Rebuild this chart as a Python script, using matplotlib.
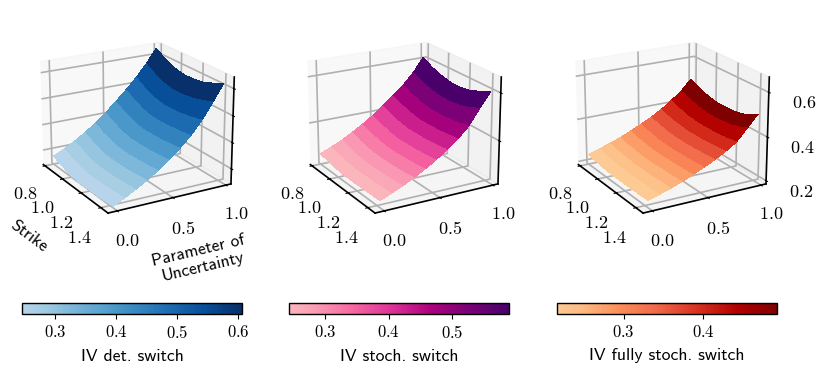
"""Implied vol surfaces for the three switch models."""

import matplotlib

matplotlib.use("Agg")
import matplotlib.pyplot as plt
import numpy as np
from matplotlib.cm import ScalarMappable
from matplotlib.colors import LinearSegmentedColormap, Normalize

plt.rcParams["mathtext.fontset"] = "cm"
plt.rcParams["font.family"] = ["cmss10", "DejaVu Sans"]
plt.rcParams["axes.formatter.use_mathtext"] = True
plt.rcParams["axes.unicode_minus"] = False

strikes = [0.80, 0.89, 0.98, 1.07, 1.16, 1.25, 1.34, 1.43]
params = [0.0, 0.1, 0.2, 0.3, 0.4, 0.5, 0.6, 0.7, 0.8, 0.9, 1.0]

iv_det = [
    [.275, .262, .252, .246, .246, .247, .248, .250],
    [.294, .280, .269, .263, .263, .264, .267, .270],
    [.315, .301, .289, .283, .283, .284, .287, .291],
    [.340, .324, .312, .305, .305, .306, .310, .314],
    [.368, .351, .338, .331, .331, .332, .336, .340],
    [.400, .382, .368, .360, .360, .361, .365, .369],
    [.435, .416, .401, .392, .392, .393, .397, .402],
    [.472, .452, .436, .427, .427, .429, .433, .439],
    [.512, .491, .475, .466, .466, .469, .476, .485],
    [.557, .536, .519, .512, .512, .518, .528, .541],
    [.610, .586, .570, .562, .562, .568, .582, .600],
]
iv_stoch = [
    [.262, .253, .246, .242, .242, .243, .244, .245],
    [.281, .271, .263, .258, .258, .259, .261, .264],
    [.302, .291, .282, .277, .277, .278, .281, .285],
    [.327, .314, .305, .299, .299, .300, .303, .308],
    [.355, .341, .330, .324, .324, .325, .329, .334],
    [.386, .371, .359, .352, .352, .353, .357, .362],
    [.420, .404, .391, .384, .384, .385, .389, .395],
    [.457, .440, .427, .419, .419, .420, .425, .431],
    [.497, .479, .465, .457, .457, .459, .465, .475],
    [.545, .526, .511, .503, .503, .508, .520, .540],
    [.605, .582, .566, .556, .556, .563, .580, .600],
]
iv_fully = [
    [.232, .225, .219, .216, .216, .216, .217, .218],
    [.247, .239, .233, .230, .230, .230, .231, .233],
    [.263, .255, .249, .245, .245, .245, .247, .249],
    [.281, .272, .266, .262, .262, .263, .264, .267],
    [.302, .292, .285, .281, .281, .282, .284, .287],
    [.325, .315, .306, .302, .302, .303, .305, .309],
    [.350, .339, .330, .325, .325, .326, .329, .333],
    [.378, .365, .356, .350, .350, .351, .355, .360],
    [.412, .397, .385, .378, .378, .379, .384, .392],
    [.450, .433, .420, .412, .412, .416, .426, .445],
    [.500, .476, .460, .452, .452, .456, .470, .498],
]

x_ticks = [0.8, 1.0, 1.2, 1.4]
y_ticks = [0.0, 0.5, 1.0]
z_ticks = [[.30, .395, .49, .585], [0.4, 0.6], [0.2, 0.4, 0.6]]
bar_ticks = [[0.3, 0.4, 0.5, 0.6], [0.3, 0.4, 0.5], [0.3, 0.4]]
bar_limits = [(0.246, 0.605), (0.242, 0.59), (0.216, 0.4925)]
z_limits = [(0.245, 0.625), (0.215, 0.665), (0.185, 0.667)]
bar_labels = ["IV det. switch", "IV stoch. switch", "IV fully stoch. switch"]
cmap_names = ["Blues", "RdPu", "OrRd"]
surfaces = [iv_det, iv_stoch, iv_fully]


def trunc_cmap(name, low=0.3, high=1.0):
    """keep the darker part of a colormap"""
    base = plt.get_cmap(name)
    return LinearSegmentedColormap.from_list(
        name + "_t", base(np.linspace(low, high, 256)))


def math_labels(values):
    return ["$%.1f$" % v for v in values]


fig = plt.figure(figsize=(8.30, 3.78), dpi=100)
X, Y = np.meshgrid(strikes, params)

ax_boxes = [[0.032, 0.3885, 0.255, 0.56],
            [0.3537, 0.3885, 0.255, 0.56],
            [0.6766, 0.3885, 0.255, 0.56]]
bar_boxes = [[0.027, 0.169, 0.264, 0.03],
             [0.348, 0.169, 0.265, 0.03],
             [0.671, 0.169, 0.265, 0.03]]

for i, Z in enumerate(surfaces):
    Z = np.array(Z)
    cmap = trunc_cmap(cmap_names[i])
    norm = Normalize(*bar_limits[i])
    # one colour per parameter row gives the even bands across the strike,
    # the last row has no face of its own so it stays out of the scale
    row_mean = Z.mean(axis=1)
    row_colors = cmap(Normalize(row_mean[0], row_mean[-2])(row_mean))
    face_colors = np.repeat(row_colors[:, None, :], Z.shape[1], axis=1)

    ax = fig.add_axes(ax_boxes[i], projection="3d")
    ax.set_box_aspect((4, 4, 3.2), zoom=1.04)
    ax.view_init(elev=20, azim=-30)
    ax.plot_surface(X, Y, Z, facecolors=face_colors, shade=False,
                    linewidth=0, antialiased=False)
    ax.set_xlim(0.78, 1.47)
    ax.set_ylim(-0.08, 1.05)
    ax.set_zlim(*z_limits[i])
    ax.set_xticks(x_ticks)
    ax.set_xticklabels(math_labels(x_ticks), fontsize=13)
    ax.set_yticks(y_ticks)
    ax.set_yticklabels(math_labels(y_ticks), fontsize=13)
    ax.set_zticks(z_ticks[i])
    if i == 2:
        ax.set_zticklabels(math_labels(z_ticks[i]), fontsize=13)
    else:
        ax.set_zticklabels([])
    ax.tick_params(axis="x", pad=5)
    ax.tick_params(axis="y", pad=3)
    ax.tick_params(axis="z", pad=6)
    if i == 0:
        ax.set_xlabel("Strike", fontsize=12.5, labelpad=8)
        ax.set_ylabel("Parameter of\nUncertainty", fontsize=12.5, labelpad=9)
    for axis in (ax.xaxis, ax.yaxis, ax.zaxis):
        axis._axinfo["grid"]["linewidth"] = 1.2
        axis.line.set_linewidth(1.2)

    cax = fig.add_axes(bar_boxes[i])
    cb = fig.colorbar(ScalarMappable(norm=norm, cmap=cmap), cax=cax,
                      orientation="horizontal")
    cb.set_ticks(bar_ticks[i])
    cb.set_ticklabels(math_labels(bar_ticks[i]), fontsize=12)
    cb.set_label(bar_labels[i], fontsize=12.7, labelpad=6)
    cb.outline.set_linewidth(1.0)

fig.savefig("out.png", dpi=100)
